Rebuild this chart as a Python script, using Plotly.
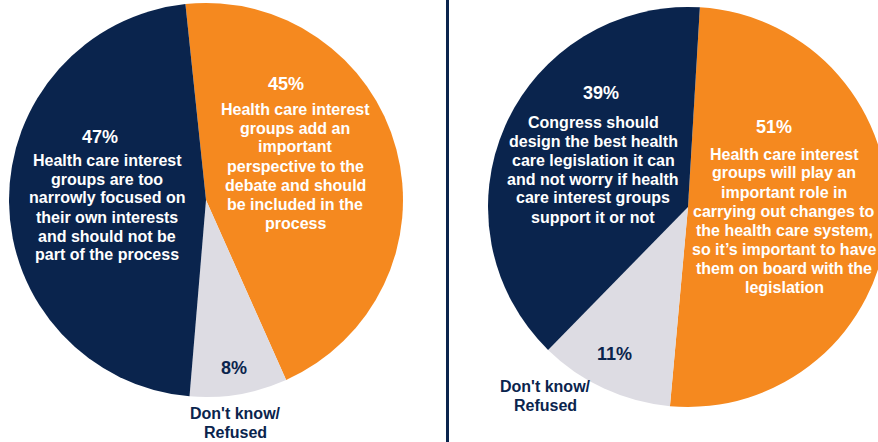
import plotly.graph_objects as go

# ---------------- data ----------------
left_categories = ["Add important perspective", "Don't know/Refused", "Too narrowly focused"]
left_values = [45, 8, 47]
left_texts = [
    ["Health care interest", "groups add an", "important", "perspective to the",
     "debate and should", "be included in the", "process"],
    [],
    ["Health care interest", "groups are too", "narrowly focused on",
     "their own interests", "and should not be", "part of the process"],
]

right_categories = ["Play important role", "Don't know/Refused", "Congress should not worry"]
right_values = [51, 11, 39]
right_texts = [
    ["Health care interest", "groups will play an", "important role in",
     "carrying out changes to", "the health care system,",
     "so it\u2019s important to have", "them on board with the", "legislation"],
    [],
    ["Congress should", "design the best health", "care legislation it can",
     "and not worry if health", "care interest groups", "support it or not"],
]
dk_label = ["Don't know/", "Refused"]

# ---------------- styles ----------------
# the right pie in the reference runs past the right edge of the 878px view,
# so the figure is drawn 10px wider and the page clips it.
W, H = 888, 442
NAVY = "#0a244d"
ORANGE = "#f5891f"
GRAY = "#dddce3"
colors = [ORANGE, GRAY, NAVY]
FONT = "Liberation Sans, Arial, Helvetica, sans-serif"
LINE = 19


def px(x):
    return x / W


def py(y):
    return 1 - y / H


fig = go.Figure()

# left pie: center (206,200) r 197
fig.add_trace(go.Pie(
    labels=left_categories, values=left_values, sort=False, direction="clockwise",
    rotation=-6, marker=dict(colors=colors, line=dict(width=0)),
    textinfo="none", hoverinfo="skip", showlegend=False,
    domain=dict(x=[px(9), px(403)], y=[py(397), py(3)]),
))
# right pie: center (688,207) r 200
fig.add_trace(go.Pie(
    labels=right_categories, values=right_values, sort=False, direction="clockwise",
    rotation=3.4, marker=dict(colors=colors, line=dict(width=0)),
    textinfo="none", hoverinfo="skip", showlegend=False,
    domain=dict(x=[px(488), px(888)], y=[py(407), py(7)]),
))

annotations = []


def add_text(text, x, y, color, size=16):
    annotations.append(dict(
        text=f"<b>{text}</b>", x=px(x), y=py(y), xref="paper", yref="paper",
        xanchor="center", yanchor="middle", showarrow=False,
        font=dict(family=FONT, size=size, color=color),
    ))


def add_block(pct, lines, pct_pos, x, y0, pct_color, color):
    add_text(pct, pct_pos[0], pct_pos[1], pct_color, size=18)
    for i, ln in enumerate(lines):
        add_text(ln, x, y0 + i * LINE, color)


# left pie labels
add_block(f"{left_values[0]}%", left_texts[0], (286, 84), 295, 109, "white", "white")
add_block(f"{left_values[2]}%", left_texts[2], (100, 137), 107, 160, "white", "white")
add_text(f"{left_values[1]}%", 234, 368, NAVY, size=18)
for i, ln in enumerate(dk_label):
    add_text(ln, 235, 413 + i * LINE, NAVY)

# right pie labels
add_block(f"{right_values[0]}%", right_texts[0], (774, 127), 784, 154, "white", "white")
add_block(f"{right_values[2]}%", right_texts[2], (601, 93), 593, 122, "white", "white")
add_text(f"{right_values[1]}%", 614, 354, NAVY, size=18)
for i, ln in enumerate(dk_label):
    add_text(ln, 545, 386 + i * LINE, NAVY)

fig.update_layout(
    width=W, height=H,
    margin=dict(l=0, r=0, t=0, b=0),
    paper_bgcolor="white", plot_bgcolor="white",
    annotations=annotations,
    shapes=[dict(type="line", xref="paper", yref="paper",
                 x0=px(447.5), x1=px(447.5), y0=0, y1=1,
                 line=dict(color=NAVY, width=3))],
)

fig.write_html(
    "out.html",
    config={"displayModeBar": False},
    post_script="document.body.style.margin='0';document.body.style.overflow='hidden';",
)
